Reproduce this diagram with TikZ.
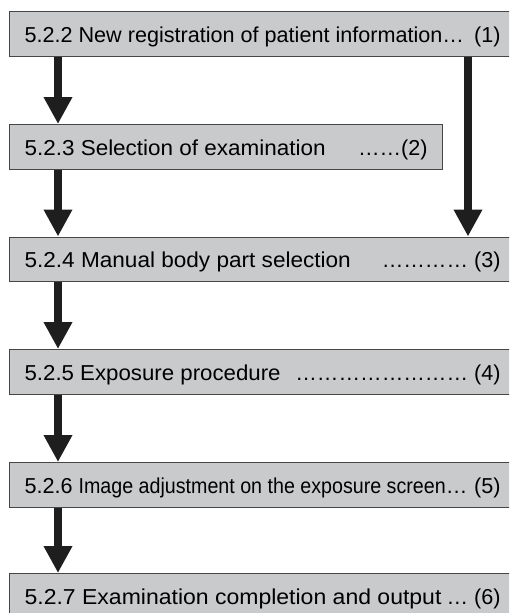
\documentclass[tikz,border=0pt]{standalone}
\usepackage{fontspec}
\setmainfont{Liberation Sans}
\usetikzlibrary{arrows.meta}

\definecolor{boxgray}{RGB}{201,202,204}
\definecolor{edgegray}{RGB}{70,70,70}
\definecolor{arrowblack}{RGB}{30,30,30}

% one line of a box: title (stretched by #1), leaders and number flush right
\newcommand{\stepline}[4][476pt]{\hbox to #1{\scalebox{#2}[1]{#3}\hfill #4}}

\tikzset{
    stepbox/.style={draw=edgegray, line width=1.2pt, fill=boxgray, anchor=north west,
        minimum height=44.5pt, inner xsep=15pt, inner ysep=0pt,
        text height=19pt, text depth=2.5pt, font=\fontsize{21.6}{24}\selectfont},
    flow/.style={draw=arrowblack, line width=8pt, -{Triangle[width=27pt,length=27pt]}}
}

\begin{document}
\begin{tikzpicture}[x=1pt,y=-1pt]
    \clip (0,0) rectangle (509,613);
    \node[stepbox] (reg) at (9,11) {\stepline{1}{5.2.2 New registration of patient information…}{(1)}};
    \node[stepbox] (exam) at (9,124) {\stepline[403pt]{1.04}{5.2.3 Selection of examination}{……(2)}};
    \node[stepbox] (body) at (9,236.5) {\stepline{1.045}{5.2.4 Manual body part selection}{………… (3)}};
    \node[stepbox] (expo) at (9,349) {\stepline{1.03}{5.2.5 Exposure procedure}{…………………… (4)}};
    \node[stepbox] (adj) at (9,462) {\stepline{1}{5.2.6 \scalebox{0.91}[1]{Image adjustment on the exposure screen}…}{(5)}};
    \node[stepbox] (done) at (9,573) {\stepline{1.065}{5.2.7 Examination completion and output}{… (6)}};
    % columns of the arrows
    \coordinate (lx) at (58,0);
    \coordinate (rx) at (468,0);
    \draw[flow] (reg.south -| lx) -- (exam.north -| lx);
    \draw[flow] (exam.south -| lx) -- (body.north -| lx);
    \draw[flow] (body.south -| lx) -- (expo.north -| lx);
    \draw[flow] (expo.south -| lx) -- (adj.north -| lx);
    \draw[flow] (adj.south -| lx) -- (done.north -| lx);
    \draw[flow] (reg.south -| rx) -- (body.north -| rx);
\end{tikzpicture}
\end{document}
